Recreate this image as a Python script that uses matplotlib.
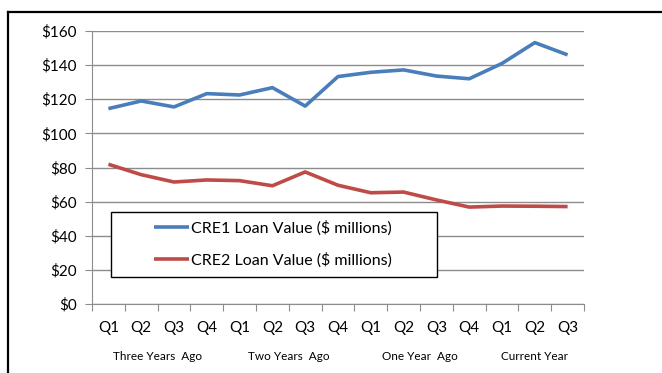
import matplotlib
matplotlib.use("Agg")
import matplotlib.pyplot as plt
from matplotlib.patches import Rectangle
from matplotlib.lines import Line2D
import matplotlib.transforms as mtransforms

quarters = ["Q1", "Q2", "Q3", "Q4", "Q1", "Q2", "Q3", "Q4", "Q1", "Q2", "Q3", "Q4", "Q1", "Q2", "Q3"]
groups = ["Three Years  Ago", "Two Years  Ago", "One Year  Ago", "Current Year"]
group_sizes = [4, 4, 4, 3]
cre1 = [114.5, 119, 115.5, 123.3, 122.5, 126.8, 116, 133.3, 135.8, 137.2, 133.6, 132, 141, 153.2, 146]
cre2 = [81.9, 75.8, 71.5, 72.7, 72.3, 69.3, 77.4, 69.6, 65.2, 65.6, 61, 56.8, 57.4, 57.3, 57.1]
series_names = ["CRE1 Loan Value ($ millions)", "CRE2 Loan Value ($ millions)"]
yticks = [0, 20, 40, 60, 80, 100, 120, 140, 160]

plt.rcParams['font.family'] = ['Lato', 'DejaVu Sans']

W, H = 662, 373
fig = plt.figure(figsize=(W / 100, H / 100), dpi=100)
# outer frame
fig.add_artist(Line2D([8 / W, 1.0], [1 - 12 / H, 1 - 12 / H], color='black', lw=1.6, transform=fig.transFigure))
fig.add_artist(Line2D([8 / W, 8 / W], [0, 1 - 12 / H], color='black', lw=1.6, transform=fig.transFigure))

ax = fig.add_axes([92 / W, 1 - 304 / H, (584 - 92) / W, (304 - 31) / H])
n = len(quarters)
xs = [i + 0.5 for i in range(n)]
ax.plot(xs, cre1, color='#4A7EBB', lw=2.6, label=series_names[0], zorder=3, solid_capstyle='butt')
ax.plot(xs, cre2, color='#BE4B48', lw=2.6, label=series_names[1], zorder=3, solid_capstyle='butt')

ax.set_xlim(0, n)
ax.set_ylim(0, 160)
ax.set_yticks(yticks)
ax.set_yticklabels([f"${v}" for v in yticks], fontsize=11)
ax.yaxis.grid(True, color='#8c8c8c', lw=1)
ax.set_axisbelow(True)
ax.set_xticks(range(n + 1))
ax.set_xticklabels([])
ax.set_xticks(xs, minor=True)
ax.set_xticklabels(quarters, minor=True, fontsize=11)
ax.tick_params(axis='x', which='major', length=5, color='#8c8c8c', direction='out')
ax.tick_params(axis='x', which='minor', length=0, pad=12)
ax.tick_params(axis='y', length=5, color='#8c8c8c', pad=6)
for s in ['top', 'right']:
    ax.spines[s].set_visible(False)
for s in ['left', 'bottom']:
    ax.spines[s].set_color('#8c8c8c')

# group labels
trans = mtransforms.blended_transform_factory(ax.transData, fig.transFigure)
start = 0
for g, sz in zip(groups, group_sizes):
    ax.text(start + sz / 2, 1 - 356 / H, g, transform=trans, ha='center', va='center', fontsize=8.5)
    start += sz

# legend box
ax.add_patch(Rectangle((19 / 492, 27 / 273), (437 - 111) / 492, (277 - 212) / 273,
                       transform=ax.transAxes, facecolor='white', edgecolor='black', lw=1, zorder=4))
leg = ax.legend(loc='center left', bbox_to_anchor=((157 - 92) / 492 - 0.006, (304 - 244) / 273),
                frameon=False, fontsize=11.5, handlelength=2.2, handletextpad=0.1, labelspacing=1.05,
                borderpad=0, borderaxespad=0)
leg.set_zorder(5)

fig.savefig("out.png", dpi=100)
